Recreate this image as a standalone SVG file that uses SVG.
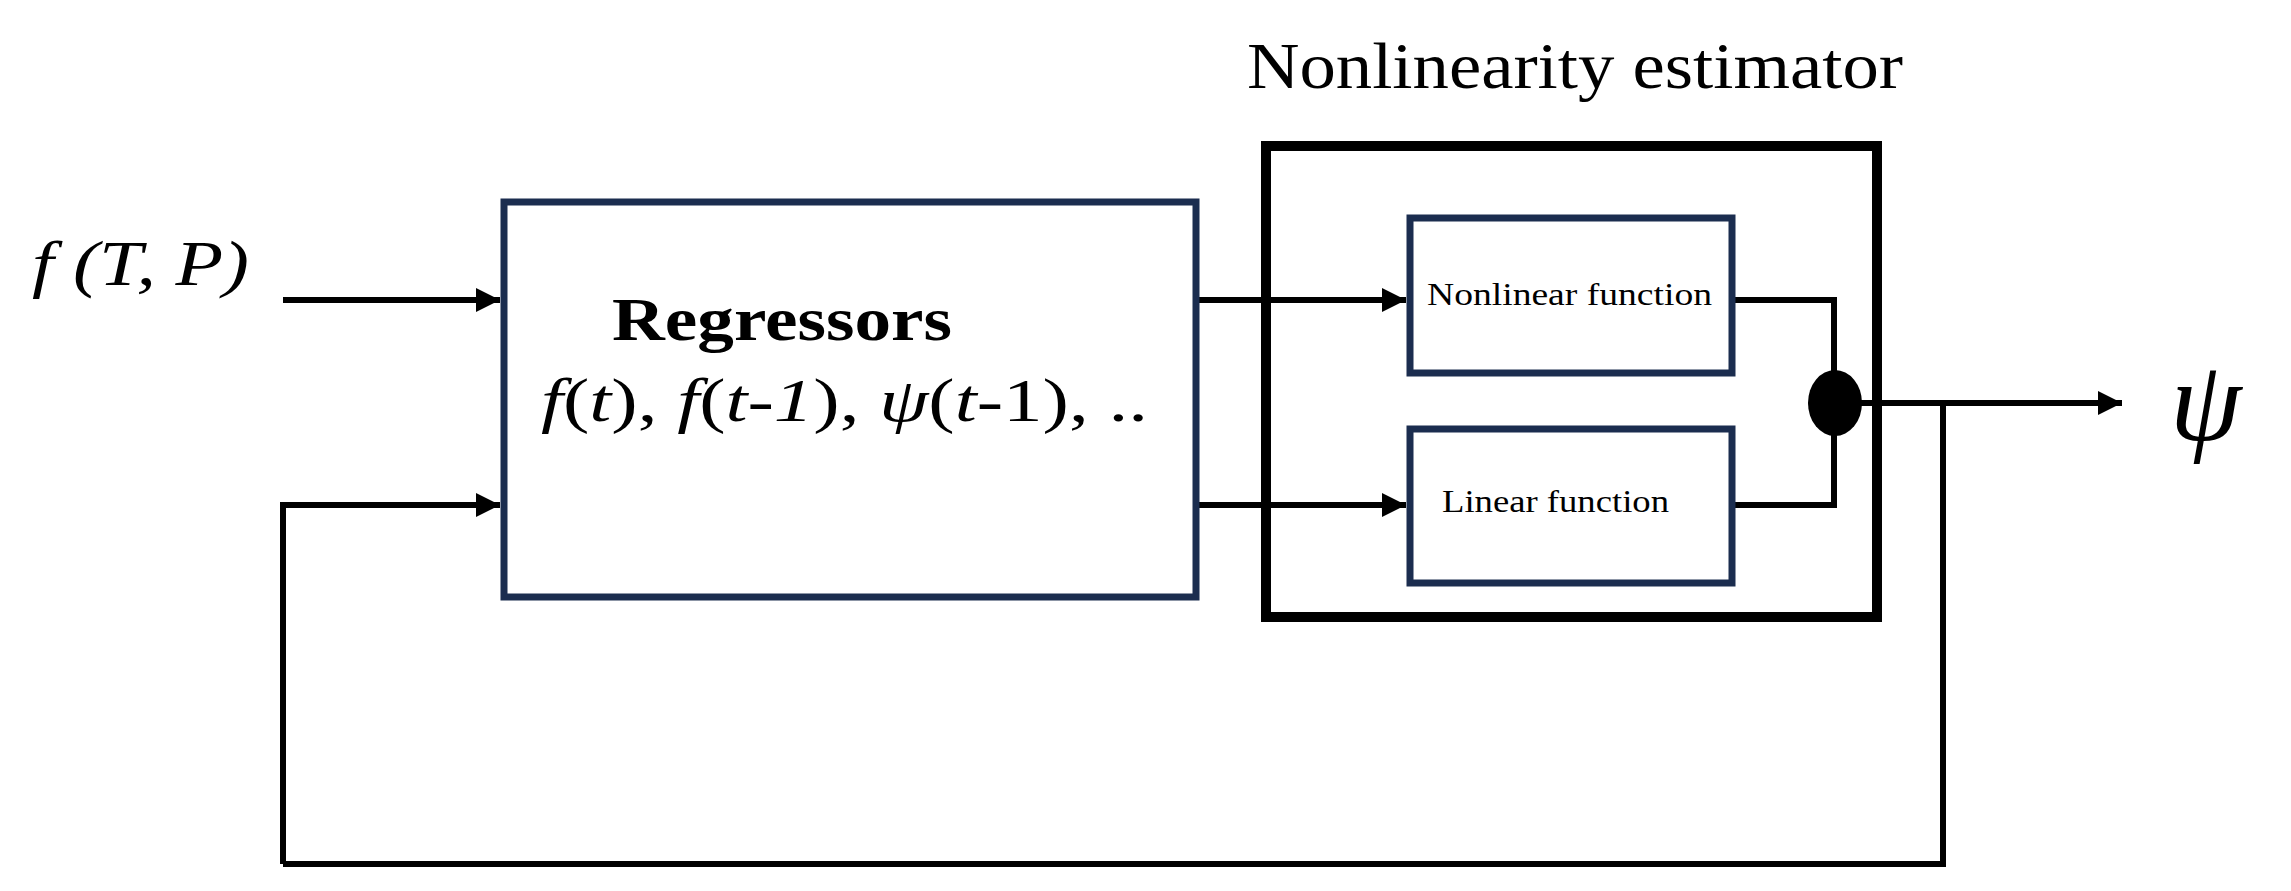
<svg xmlns="http://www.w3.org/2000/svg" width="2291" height="891" viewBox="0 0 2291 891">
<style>
.t{font-family:"Liberation Serif",serif;fill:#000}
.i{font-style:italic}
.box{fill:#fff;stroke:#1b2d4f;stroke-width:7}
.ln{fill:none;stroke:#000;stroke-width:6}
</style>
<defs>
<marker id="a" viewBox="0 0 10 10" refX="10" refY="5" markerWidth="24" markerHeight="24" markerUnits="userSpaceOnUse" orient="auto"><path d="M0,0 L10,5 L0,10z" fill="#000"/></marker></defs>
<rect width="2291" height="891" fill="#fff"/>
<g id="estimator"><rect x="1266" y="146" width="611" height="471" fill="none" stroke="#000" stroke-width="10"/>
<text class="t" x="1247" y="88" font-size="66" textLength="656" lengthAdjust="spacingAndGlyphs">Nonlinearity estimator</text></g>
<g id="connectors">
<path class="ln" d="M283,300 H500" marker-end="url(#a)"/>
<path class="ln" d="M283,864 V505 H500" marker-end="url(#a)"/>
<path class="ln" d="M1196,300 H1406" marker-end="url(#a)"/>
<path class="ln" d="M1196,505 H1406" marker-end="url(#a)"/>
<path class="ln" d="M1732,300 H1834 V505 H1732"/>
<path class="ln" d="M1834,403 H2122" marker-end="url(#a)"/>
<path class="ln" d="M1943,403 V864 H283"/>
</g>
<g id="input"><text class="t i" x="32" y="285" font-size="64" textLength="217" lengthAdjust="spacingAndGlyphs">f (T, P)</text></g>
<g id="regressors"><rect class="box" x="504" y="202" width="692" height="395"/>
<text class="t" x="612" y="340" font-size="62" font-weight="bold" textLength="340" lengthAdjust="spacingAndGlyphs">Regressors</text>
<text class="t" x="541" y="421" font-size="62" textLength="607" lengthAdjust="spacingAndGlyphs"><tspan class="i">f</tspan>(<tspan class="i">t</tspan>), <tspan class="i">f</tspan>(<tspan class="i">t-1</tspan>), <tspan class="i">ψ</tspan>(<tspan class="i">t</tspan>-1), ..</text></g>
<g id="nonlinear"><rect class="box" x="1410" y="218" width="322" height="155"/>
<text class="t" x="1427" y="305" font-size="32" textLength="285" lengthAdjust="spacingAndGlyphs">Nonlinear function</text></g>
<g id="linear"><rect class="box" x="1410" y="429" width="322" height="154"/>
<text class="t" x="1442" y="512" font-size="32" textLength="227" lengthAdjust="spacingAndGlyphs">Linear function</text></g>
<g id="junction"><ellipse cx="1835" cy="403" rx="27" ry="33" fill="#000"/></g>
<g id="output"><text class="t i" x="2170" y="440" font-size="115">ψ</text></g>
</svg>
